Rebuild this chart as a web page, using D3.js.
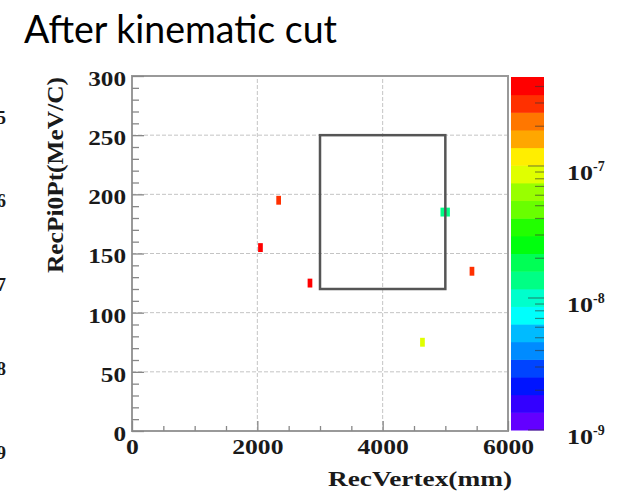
<!DOCTYPE html>
<html>
<head>
<meta charset="utf-8">
<script src="https://cdn.jsdelivr.net/npm/d3@7"></script>
<style>
  body { margin: 0; background: #fff; }
  svg { display: block; }
  text { font-family: "Liberation Serif", "Times New Roman", Times, serif; font-weight: bold; fill: #1a1a1a; }
</style>
</head>
<body>
<svg id="chart" width="619" height="493"></svg>
<script>
// bins of the 2D histogram (bin centres) and their contents
const binX = [2340, 2050, 2840, 4960, 5035, 5425, 4635];
const binY = [195, 155, 125, 185, 185, 135, 75];
const binZ = [3.0e-7, 4.5e-7, 4.5e-7, 1.4e-8, 1.4e-8, 3.0e-7, 8.0e-8];
const binW = 75, binH = 7.5;

// kinematic cut box
const cutX = [3000, 5000];
const cutY = [120, 250];

const xTicks = [0, 2000, 4000, 6000];
const yTicks = [0, 50, 100, 150, 200, 250, 300];
const zLabels = [1e-7, 1e-8, 1e-9];
const zExp = ["-7", "-8", "-9"];
const leftEdgeDigits = ["5", "6", "7", "8", "9"];

const svg = d3.select("#chart");

const x = d3.scaleLinear().domain([0, 6000]).range([132, 508]);
const y = d3.scaleLinear().domain([0, 300]).range([431, 76]);
const z = d3.scaleLog().domain([1e-9, 4.72e-7]).range([430, 77]);

// ROOT "pretty" palette, 20 contour levels
const nLevels = 20;
function levelColor(i) {
  const idx = Math.floor((i + 0.99) * 50 / nLevels);
  const hue = 280 - (idx + 1) * 5.6;
  return d3.hsl(hue, 1, 0.5).toString();
}
function zColor(v) {
  const lz = Math.log10(v), l0 = Math.log10(z.domain()[0]), l1 = Math.log10(z.domain()[1]);
  let i = Math.floor((lz - l0) / (l1 - l0) * nLevels);
  i = Math.max(0, Math.min(nLevels - 1, i));
  return levelColor(i);
}

// title
svg.append("text")
  .attr("x", 24).attr("y", 43)
  .attr("textLength", 313).attr("lengthAdjust", "spacingAndGlyphs")
  .style("font-family", "Lato, 'Open Sans', sans-serif")
  .style("font-weight", "normal")
  .style("font-size", "39px")
  .style("fill", "#000")
  .text("After kinematic cut");

// cut-off exponents of the neighbouring plot
const edgeY = d3.scalePoint().domain(leftEdgeDigits).range([117, 452]);
svg.append("g").selectAll("text")
  .data(leftEdgeDigits)
  .join("text")
  .attr("x", 6).attr("y", d => edgeY(d))
  .attr("dy", "0.35em")
  .attr("text-anchor", "end")
  .style("font-size", "19px")
  .text(d => d);

// grid
const grid = svg.append("g")
  .attr("stroke", "#c4c4c4").attr("stroke-width", 1).attr("stroke-dasharray", "4,2");
grid.selectAll(".gx").data([2000, 4000]).join("line")
  .attr("x1", d => x(d)).attr("x2", d => x(d)).attr("y1", y(0)).attr("y2", y(300));
grid.selectAll(".gy").data([50, 100, 150, 200, 250]).join("line")
  .attr("y1", d => y(d)).attr("y2", d => y(d)).attr("x1", x(0)).attr("x2", x(6000));

// histogram cells
svg.append("g").selectAll("rect")
  .data(binX.map((d, i) => ({ x: d, y: binY[i], z: binZ[i] })))
  .join("rect")
  .attr("x", d => x(d.x - binW / 2))
  .attr("y", d => y(d.y + binH / 2))
  .attr("width", d => x(d.x + binW / 2) - x(d.x - binW / 2))
  .attr("height", d => y(d.y - binH / 2) - y(d.y + binH / 2))
  .attr("fill", d => zColor(d.z));

// cut box
svg.append("rect")
  .attr("x", x(cutX[0])).attr("y", y(cutY[1]))
  .attr("width", x(cutX[1]) - x(cutX[0]))
  .attr("height", y(cutY[0]) - y(cutY[1]))
  .attr("fill", "none").attr("stroke", "#555").attr("stroke-width", 2.5);

// frame
svg.append("rect")
  .attr("x", x(0)).attr("y", y(300))
  .attr("width", x(6000) - x(0)).attr("height", y(0) - y(300))
  .attr("fill", "none").attr("stroke", "#999").attr("stroke-width", 2);

// y axis
const yMinor = d3.range(0, 301, 10).filter(d => d % 50 !== 0);
const yAxisG = svg.append("g").attr("transform", `translate(${x(0)},0)`);
yAxisG.call(d3.axisLeft(y).tickValues(yMinor).tickSize(-7).tickFormat(""));
yAxisG.select(".domain").remove();
const yMajorG = svg.append("g").attr("transform", `translate(${x(0)},0)`);
yMajorG.call(d3.axisLeft(y).tickValues(yTicks).tickSize(-12).tickPadding(6));
yMajorG.select(".domain").remove();
yMajorG.selectAll("text")
  .attr("dy", "0.45em")
  .attr("textLength", d => String(d).length * 12.6).attr("lengthAdjust", "spacingAndGlyphs")
  .style("font-size", "21px").attr("fill", "#1a1a1a");

// x axis
const xMinor = d3.range(0, 6001, 500).filter(d => d % 2000 !== 0);
const xAxisG = svg.append("g").attr("transform", `translate(0,${y(0)})`);
xAxisG.call(d3.axisBottom(x).tickValues(xMinor).tickSize(-5).tickFormat(""));
xAxisG.select(".domain").remove();
const xMajorG = svg.append("g").attr("transform", `translate(0,${y(0)})`);
xMajorG.call(d3.axisBottom(x).tickValues(xTicks).tickSize(-10).tickPadding(4).tickFormat(d3.format("d")));
xMajorG.select(".domain").remove();
xMajorG.selectAll("text")
  .attr("dy", "0.9em")
  .attr("textLength", d => String(d).length * 12.8).attr("lengthAdjust", "spacingAndGlyphs")
  .style("font-size", "21px").attr("fill", "#1a1a1a");
svg.selectAll("g.tick line").attr("stroke", "#888").attr("stroke-width", 1.3);

// axis titles
svg.append("text")
  .attr("x", 512).attr("y", 486)
  .attr("text-anchor", "end")
  .attr("textLength", 184).attr("lengthAdjust", "spacingAndGlyphs")
  .style("font-size", "22px")
  .text("RecVertex(mm)");
svg.append("text")
  .attr("transform", "translate(63,77) rotate(-90)")
  .attr("text-anchor", "end")
  .attr("textLength", 196).attr("lengthAdjust", "spacingAndGlyphs")
  .style("font-size", "23px")
  .text("RecPi0Pt(MeV/C)");

// colour bar
const cbL = 511, cbR = 544;
const lz0 = Math.log10(z.domain()[0]), lz1 = Math.log10(z.domain()[1]);
const levels = d3.range(nLevels).map(i => ({
  lo: Math.pow(10, lz0 + i * (lz1 - lz0) / nLevels),
  hi: Math.pow(10, lz0 + (i + 1) * (lz1 - lz0) / nLevels),
  c: levelColor(i)
}));
svg.append("g").selectAll("rect")
  .data(levels)
  .join("rect")
  .attr("x", cbL).attr("width", cbR - cbL)
  .attr("y", d => z(d.hi)).attr("height", d => z(d.lo) - z(d.hi) + 0.5)
  .attr("fill", d => d.c);

const zTicks = z.ticks().filter(d => d >= z.domain()[0] && d <= z.domain()[1]);
const isDecade = d => Math.abs(Math.log10(d) - Math.round(Math.log10(d))) < 1e-6;
svg.append("g").selectAll("line")
  .data(zTicks)
  .join("line")
  .attr("x1", cbR).attr("x2", d => cbR - (isDecade(d) ? 16 : 9))
  .attr("y1", d => z(d)).attr("y2", d => z(d))
  .attr("stroke", "#333").attr("stroke-opacity", 0.55).attr("stroke-width", 1.2);

const zl = svg.append("g").selectAll("text")
  .data(zLabels)
  .join("text")
  .attr("x", 567).attr("y", d => z(d) + 14)
  .style("font-size", "21px");
zl.append("tspan").attr("textLength", 26).attr("lengthAdjust", "spacingAndGlyphs").text("10");
zl.append("tspan").attr("dy", -9).style("font-size", "14px").text((d, i) => zExp[i]);
</script>
</body>
</html>
